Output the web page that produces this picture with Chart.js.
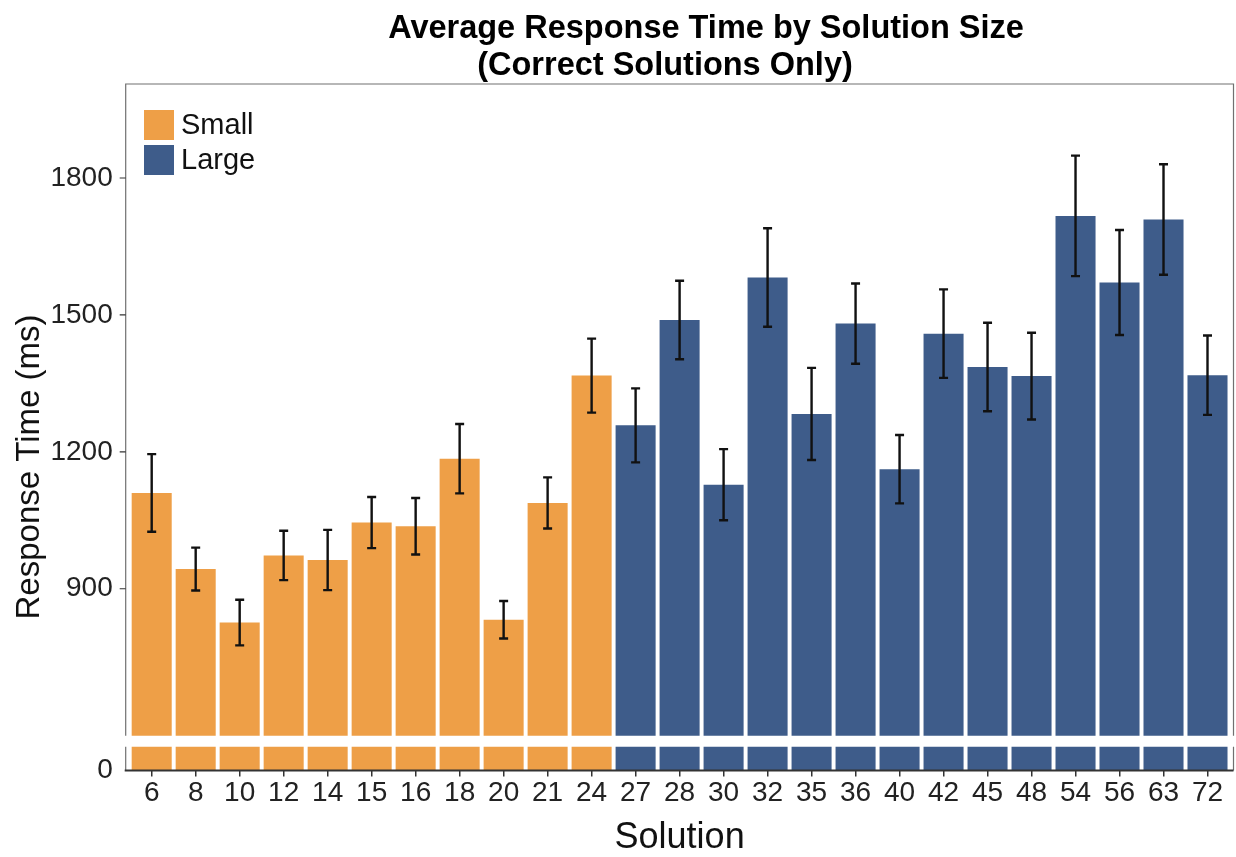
<!DOCTYPE html>
<html>
<head>
<meta charset="utf-8">
<script src="https://cdn.jsdelivr.net/npm/chart.js@4.4.1/dist/chart.umd.min.js"></script>
<style>
  html, body { margin: 0; padding: 0; background: #fff; }
  canvas { display: block; }
</style>
</head>
<body>
<canvas id="chart" width="1236" height="857"></canvas>
<script>
// Average response time per solution size, broken y axis (0 | 578..2006).
const CATEGORIES = ['6', '8', '10', '12', '14', '15', '16', '18', '20', '21', '24',
  '27', '28', '30', '32', '35', '36', '40', '42', '45', '48', '54', '56', '63', '72'];
const GROUPS = ['Small', 'Small', 'Small', 'Small', 'Small', 'Small', 'Small', 'Small', 'Small', 'Small', 'Small',
  'Large', 'Large', 'Large', 'Large', 'Large', 'Large', 'Large', 'Large', 'Large', 'Large', 'Large', 'Large', 'Large', 'Large'];
const MEANS = [1110, 943, 826, 973, 963, 1045, 1037, 1185, 832, 1088, 1367,
  1258, 1489, 1128, 1582, 1283, 1481, 1162, 1459, 1386, 1366, 1717, 1571, 1709, 1368];
const ERRORS = [85, 47, 50, 54, 66, 56, 62, 76, 41, 56, 81,
  81, 86, 78, 108, 101, 88, 75, 97, 97, 95, 132, 115, 121, 87];
const Y_TICKS = [900, 1200, 1500, 1800];
const LOW_TICKS = [0];
const UPPER_RANGE = [578, 2006];
const LOWER_RANGE = [0, 100];

const COLORS = { Small: '#EE9F47', Large: '#3E5C8A' };
const FONT = '"Liberation Sans", Arial, Helvetica, sans-serif';
const GAP = 11;        // white break between the two axis segments
const FRAME_PAD = 4;   // panel border sits a little outside the bar range

function groupData(name) {
  return MEANS.map((v, i) => (GROUPS[i] === name ? v : null));
}

function barSet(name, axis, legend) {
  return {
    label: name,
    data: groupData(name),
    yAxisID: axis,
    stack: 'all',
    backgroundColor: COLORS[name],
    borderWidth: 0,
    barPercentage: 0.91,
    categoryPercentage: 1.0,
    // lower copies stop GAP px under the break
    clip: axis === 'yLow' ? { left: 0, right: 0, top: -GAP, bottom: 0 } : 0,
    legend: legend,
    errorBars: legend,
  };
}

const errorBarPlugin = {
  id: 'errorBars',
  afterDatasetsDraw(chart) {
    const ctx = chart.ctx;
    ctx.save();
    ctx.strokeStyle = '#111';
    ctx.lineWidth = 2.4;
    chart.data.datasets.forEach((ds, di) => {
      if (!ds.errorBars) return;
      const meta = chart.getDatasetMeta(di);
      const ys = chart.scales[ds.yAxisID];
      ds.data.forEach((v, i) => {
        if (v == null) return;
        const x = meta.data[i].x;
        const top = ys.getPixelForValue(v + ERRORS[i]);
        const bot = ys.getPixelForValue(v - ERRORS[i]);
        ctx.beginPath();
        ctx.moveTo(x, top); ctx.lineTo(x, bot);
        ctx.moveTo(x - 4.5, top); ctx.lineTo(x + 4.5, top);
        ctx.moveTo(x - 4.5, bot); ctx.lineTo(x + 4.5, bot);
        ctx.stroke();
      });
    });
    ctx.restore();
  }
};

const framePlugin = {
  id: 'frame',
  afterDraw(chart) {
    const ctx = chart.ctx, a = chart.chartArea;
    const up = chart.scales.y, low = chart.scales.yLow;
    const L = a.left - FRAME_PAD, R = a.right + FRAME_PAD;
    ctx.save();
    ctx.strokeStyle = '#707070';
    ctx.lineWidth = 1.2;
    ctx.beginPath();
    ctx.moveTo(L, up.bottom); ctx.lineTo(L, up.top); ctx.lineTo(R, up.top); ctx.lineTo(R, up.bottom);
    ctx.moveTo(L, low.top + GAP); ctx.lineTo(L, low.bottom);
    ctx.moveTo(R, low.top + GAP); ctx.lineTo(R, low.bottom);
    ctx.stroke();

    ctx.strokeStyle = '#333';
    ctx.lineWidth = 1.2;
    ctx.beginPath();
    up.ticks.forEach(t => {
      const y = up.getPixelForValue(t.value);
      ctx.moveTo(L - 6, y); ctx.lineTo(L, y);
    });
    ctx.stroke();

    ctx.lineWidth = 2;
    ctx.beginPath();
    ctx.moveTo(L - 1, low.bottom); ctx.lineTo(R, low.bottom);
    ctx.stroke();
    ctx.restore();
  }
};

const textPlugin = {
  id: 'texts',
  afterDraw(chart) {
    const ctx = chart.ctx;
    ctx.save();
    ctx.fillStyle = '#000';
    ctx.textAlign = 'center';
    ctx.textBaseline = 'alphabetic';
    ctx.font = 'bold 32.5px ' + FONT;
    ctx.fillText('Average Response Time by Solution Size', 706, 38);
    ctx.fillText('(Correct Solutions Only)', 665, 75);

    ctx.font = '33px ' + FONT;
    ctx.fillStyle = '#111';
    ctx.textBaseline = 'middle';
    ctx.translate(30, 467);
    ctx.rotate(-Math.PI / 2);
    ctx.fillText('Response Time (ms)', 0, 0);
    ctx.restore();

    // legend, top-left inside the panel
    ctx.save();
    ctx.font = '29px ' + FONT;
    ctx.textBaseline = 'middle';
    ctx.textAlign = 'left';
    chart.data.datasets.filter(d => d.legend).forEach((d, k) => {
      const y = 110 + k * 35;
      ctx.fillStyle = d.backgroundColor;
      ctx.fillRect(144, y, 30, 30);
      ctx.fillStyle = '#111';
      ctx.fillText(d.label, 181, y + 16);
    });
    ctx.restore();
  }
};

const tickFont = { family: FONT, size: 28 };
const plainTick = v => String(v);

new Chart(document.getElementById('chart'), {
  type: 'bar',
  data: {
    labels: CATEGORIES,
    datasets: [
      barSet('Small', 'y', true),
      barSet('Large', 'y', true),
      barSet('Small', 'yLow', false),
      barSet('Large', 'yLow', false),
    ],
  },
  options: {
    responsive: false,
    animation: false,
    layout: { padding: { top: 84, right: 6.5, left: 0, bottom: 0 } },
    plugins: { legend: { display: false }, tooltip: { enabled: false } },
    scales: {
      x: {
        grid: { display: true, drawOnChartArea: false, offset: false, tickLength: 6, color: '#333', lineWidth: 1.5 },
        border: { display: false },
        ticks: { font: tickFont, color: '#222', padding: 0, maxRotation: 0, autoSkip: false },
        title: { display: true, text: 'Solution', font: { family: FONT, size: 36, lineHeight: 1 }, color: '#111', padding: { top: 0, bottom: 1 } },
        afterFit: s => { s.height = 86.5; },
      },
      // stacked axes are laid out bottom-up in declaration order
      yLow: {
        stack: 'ms', stackWeight: 34.8, position: 'left', stacked: false,
        min: LOWER_RANGE[0], max: LOWER_RANGE[1],
        grid: { display: false, drawTicks: false },
        border: { display: false },
        ticks: { font: tickFont, color: '#222', padding: 17, callback: plainTick },
        afterBuildTicks: s => { s.ticks = LOW_TICKS.map(v => ({ value: v })); },
        afterFit: s => { s.width = 129.7; },
      },
      y: {
        stack: 'ms', stackWeight: 651.7, position: 'left', stacked: false,
        min: UPPER_RANGE[0], max: UPPER_RANGE[1],
        grid: { display: false, drawTicks: false },
        border: { display: false },
        ticks: { font: tickFont, color: '#222', padding: 17, callback: plainTick },
        afterBuildTicks: s => { s.ticks = Y_TICKS.map(v => ({ value: v })); },
        afterFit: s => { s.width = 129.7; },
      },
    },
  },
  plugins: [errorBarPlugin, framePlugin, textPlugin],
});
</script>
</body>
</html>
